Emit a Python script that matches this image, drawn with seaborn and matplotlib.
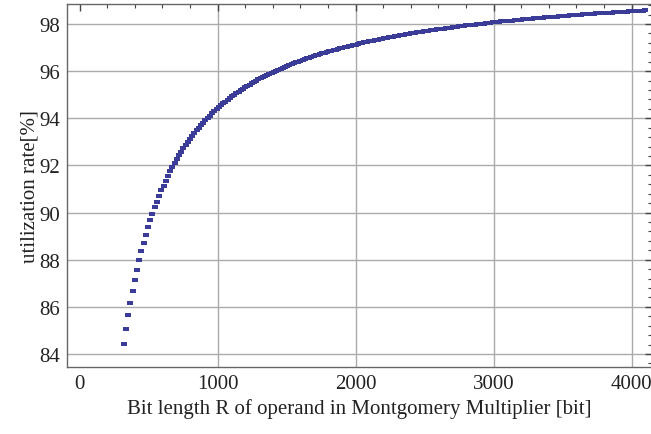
import seaborn as sns
import matplotlib.pyplot as plt
from matplotlib.ticker import MultipleLocator
import pandas as pd

# bit length R of operand [bit]
bit_length = [
    320, 336, 352, 368, 384, 400, 416, 432, 448, 464, 480, 496,
    512, 528, 544, 560, 576, 592, 608, 624, 640, 656, 672, 688,
    704, 720, 736, 752, 768, 784, 800, 816, 832, 848, 864, 880,
    896, 912, 928, 944, 960, 976, 992, 1008, 1024, 1040, 1056, 1072,
    1088, 1104, 1120, 1136, 1152, 1168, 1184, 1200, 1216, 1232, 1248, 1264,
    1280, 1296, 1312, 1328, 1344, 1360, 1376, 1392, 1408, 1424, 1440, 1456,
    1472, 1488, 1504, 1520, 1536, 1552, 1568, 1584, 1600, 1616, 1632, 1648,
    1664, 1680, 1696, 1712, 1728, 1744, 1760, 1776, 1792, 1808, 1824, 1840,
    1856, 1872, 1888, 1904, 1920, 1936, 1952, 1968, 1984, 2000, 2016, 2032,
    2048, 2064, 2080, 2096, 2112, 2128, 2144, 2160, 2176, 2192, 2208, 2224,
    2240, 2256, 2272, 2288, 2304, 2320, 2336, 2352, 2368, 2384, 2400, 2416,
    2432, 2448, 2464, 2480, 2496, 2512, 2528, 2544, 2560, 2576, 2592, 2608,
    2624, 2640, 2656, 2672, 2688, 2704, 2720, 2736, 2752, 2768, 2784, 2800,
    2816, 2832, 2848, 2864, 2880, 2896, 2912, 2928, 2944, 2960, 2976, 2992,
    3008, 3024, 3040, 3056, 3072, 3088, 3104, 3120, 3136, 3152, 3168, 3184,
    3200, 3216, 3232, 3248, 3264, 3280, 3296, 3312, 3328, 3344, 3360, 3376,
    3392, 3408, 3424, 3440, 3456, 3472, 3488, 3504, 3520, 3536, 3552, 3568,
    3584, 3600, 3616, 3632, 3648, 3664, 3680, 3696, 3712, 3728, 3744, 3760,
    3776, 3792, 3808, 3824, 3840, 3856, 3872, 3888, 3904, 3920, 3936, 3952,
    3968, 3984, 4000, 4016, 4032, 4048, 4064, 4080, 4096,
]

# utilization rate [%]
utilization = [
    84.43, 85.06, 85.64, 86.18, 86.68, 87.15, 87.58, 87.98, 88.36, 88.72, 89.05, 89.37,
    89.67, 89.95, 90.22, 90.47, 90.71, 90.94, 91.15, 91.36, 91.56, 91.75, 91.93, 92.10,
    92.27, 92.43, 92.58, 92.73, 92.87, 93.00, 93.13, 93.26, 93.38, 93.50, 93.61, 93.72,
    93.82, 93.92, 94.02, 94.12, 94.21, 94.30, 94.39, 94.47, 94.55, 94.63, 94.71, 94.78,
    94.86, 94.93, 95.00, 95.06, 95.13, 95.19, 95.25, 95.31, 95.37, 95.43, 95.49, 95.54,
    95.59, 95.65, 95.70, 95.75, 95.79, 95.84, 95.89, 95.93, 95.98, 96.02, 96.06, 96.11,
    96.15, 96.19, 96.23, 96.26, 96.30, 96.34, 96.37, 96.41, 96.44, 96.48, 96.51, 96.54,
    96.58, 96.61, 96.64, 96.67, 96.70, 96.73, 96.76, 96.78, 96.81, 96.84, 96.87, 96.89,
    96.92, 96.94, 96.97, 96.99, 97.02, 97.04, 97.07, 97.09, 97.11, 97.13, 97.16, 97.18,
    97.20, 97.22, 97.24, 97.26, 97.28, 97.30, 97.32, 97.34, 97.36, 97.38, 97.40, 97.42,
    97.43, 97.45, 97.47, 97.49, 97.50, 97.52, 97.54, 97.55, 97.57, 97.59, 97.60, 97.62,
    97.63, 97.65, 97.66, 97.68, 97.69, 97.71, 97.72, 97.73, 97.75, 97.76, 97.77, 97.79,
    97.80, 97.81, 97.83, 97.84, 97.85, 97.86, 97.88, 97.89, 97.90, 97.91, 97.92, 97.94,
    97.95, 97.96, 97.97, 97.98, 97.99, 98.00, 98.01, 98.02, 98.04, 98.05, 98.06, 98.07,
    98.08, 98.09, 98.10, 98.11, 98.12, 98.13, 98.13, 98.14, 98.15, 98.16, 98.17, 98.18,
    98.19, 98.20, 98.21, 98.22, 98.22, 98.23, 98.24, 98.25, 98.26, 98.27, 98.27, 98.28,
    98.29, 98.30, 98.31, 98.31, 98.32, 98.33, 98.34, 98.34, 98.35, 98.36, 98.37, 98.37,
    98.38, 98.39, 98.39, 98.40, 98.41, 98.41, 98.42, 98.43, 98.44, 98.44, 98.45, 98.45,
    98.46, 98.47, 98.47, 98.48, 98.49, 98.49, 98.50, 98.50, 98.51, 98.52, 98.52, 98.53,
    98.53, 98.54, 98.55, 98.55, 98.56, 98.56, 98.57, 98.57, 98.58,
]

# vertical grid lines (none at 0, as in the original)
x_grid = [1000, 2000, 3000, 4000]

df = pd.DataFrame({"R": bit_length, "rate": utilization})

sns.set_style("white")
plt.rcParams["font.family"] = ["Liberation Serif", "DejaVu Serif"]

fig = plt.figure(figsize=(6.51, 4.35), dpi=100)
ax = fig.add_axes([0.103, 0.154, 0.899, 0.835])

# flat rectangle marker, like Mathematica's points
rect = [(-1, -0.5), (1, -0.5), (1, 0.5), (-1, 0.5), (-1, -0.5)]
sns.scatterplot(data=df, x="R", y="rate", ax=ax, marker=rect, s=22,
                color="#3b3b98", linewidth=0, zorder=3)

ax.set_xlim(-91, 4150)
ax.set_ylim(83.45, 98.86)
ax.xaxis.set_major_locator(MultipleLocator(1000))
ax.xaxis.set_minor_locator(MultipleLocator(200))
ax.yaxis.set_major_locator(MultipleLocator(2))
ax.yaxis.set_minor_locator(MultipleLocator(0.4))

ax.yaxis.grid(True, which="major", color="#ababab", linewidth=1.0)
for xv in x_grid:
    ax.axvline(xv, color="#ababab", linewidth=1.0, zorder=0)
ax.set_axisbelow(True)

for sp in ax.spines.values():
    sp.set_color("#666666")
    sp.set_linewidth(1.0)

ax.tick_params(which="both", direction="in", top=True, right=True,
               color="#444444", labelsize=15, labelcolor="#222222")
ax.tick_params(which="major", length=5, width=1.0, pad=5)
ax.tick_params(which="minor", length=3, width=0.8)

ax.set_xlabel("Bit length R of operand in Montgomery Multiplier [bit]",
              fontsize=15, color="#222222", labelpad=4)
ax.set_ylabel("utilization rate[%]", fontsize=15, color="#222222", labelpad=0)

fig.savefig("out.png", dpi=100)
